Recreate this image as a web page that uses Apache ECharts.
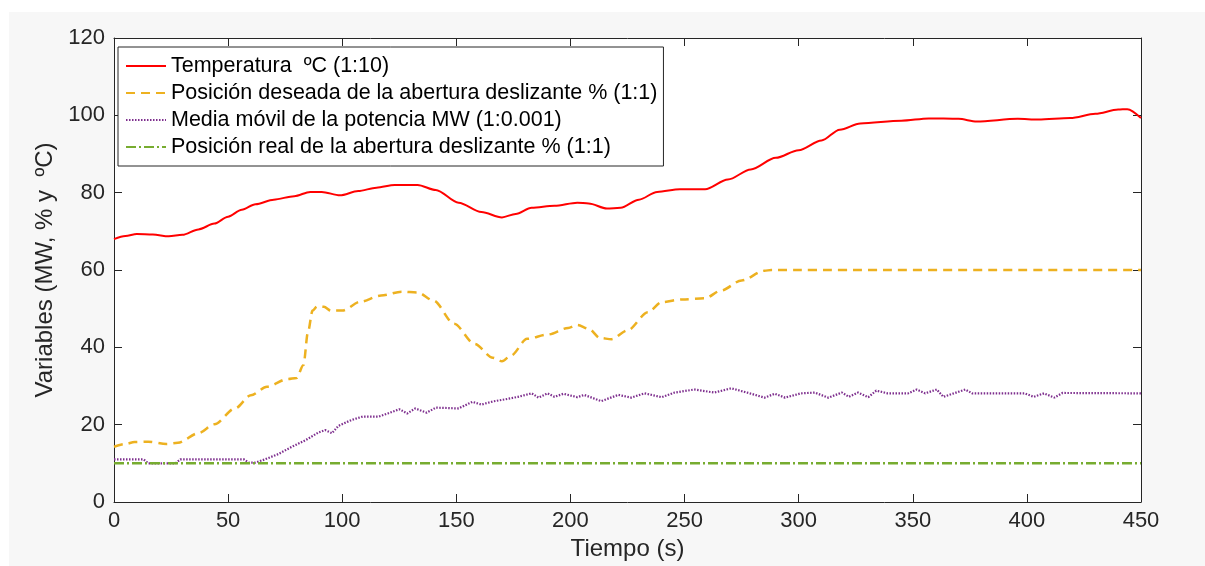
<!DOCTYPE html>
<html>
<head>
<meta charset="utf-8">
<script src="https://cdn.jsdelivr.net/npm/echarts@6/dist/echarts.min.js"></script>
<style>
  body { margin: 0; background: #ffffff; }
  #frame { position: absolute; left: 9px; top: 12px; width: 1196px; height: 554px; background: #f7f7f7; }
  #chart { position: absolute; left: 0; top: 0; width: 1205px; height: 566px; }
</style>
</head>
<body>
<div id="frame"></div>
<div id="chart"></div>
<script>
// Temperatura ºC (1:10)
const tiempoTemp = [0, 5, 10, 17, 24, 30, 37, 44, 50, 56, 62, 70, 79, 86, 91, 99, 107, 115, 123, 133,
  141, 151, 161, 170, 176, 183, 193, 203, 208, 216, 222, 230, 238, 248, 259, 269, 279, 290, 300, 310,
  318, 327, 345, 357, 370, 378, 396, 405, 419, 430, 440, 444, 450]
const temperatura = [68.0, 68.8, 69.3, 69.2, 68.7, 69.1, 70.5, 72.0, 73.8, 75.6, 77.0, 78.2, 79.1, 80.2, 80.2, 79.3, 80.4, 81.3, 82.0, 82.0,
  80.7, 77.4, 75.0, 73.6, 74.5, 76.1, 76.6, 77.4, 77.2, 75.9, 76.1, 78.2, 80.2, 80.9, 80.9, 83.4, 86.0, 89.0, 91.0, 93.5,
  96.3, 97.9, 98.6, 99.2, 99.1, 98.4, 99.1, 98.9, 99.3, 100.4, 101.5, 101.6, 99.3]

// Posición deseada de la abertura deslizante % (1:1)
const tiempoDeseada = [0, 5, 9, 15, 23, 28, 37, 44, 53, 60, 67, 76, 80, 83, 85, 87, 89, 92, 95, 100,
  108, 117, 126, 133, 140, 149, 158, 166, 170, 174, 181, 190, 199, 203, 208, 213, 218, 225, 234, 240,
  249, 259, 266, 275, 285, 288, 450]
const posDeseada = [14.3, 15.0, 15.5, 15.6, 15.0, 15.3, 17.8, 20.1, 24.2, 27.6, 29.8, 31.8, 32.1, 35.4, 44.0, 49.5, 50.6, 50.5, 49.5, 49.5,
  51.8, 53.4, 54.4, 54.2, 52.1, 46.1, 40.9, 37.3, 36.4, 37.9, 42.2, 43.3, 45.0, 45.8, 44.8, 42.4, 42.1, 44.4, 49.1, 51.7,
  52.4, 52.7, 54.7, 57.3, 59.8, 60.0, 60.0]

// Media móvil de la potencia MW (1:0.001)
const tiempoPotencia = [0, 13, 15, 27, 29, 57, 59, 62, 66, 72, 78, 84, 89.6, 92.5, 95.5, 98.4, 104, 109, 116, 120,
  125, 128.5, 132, 137, 141, 151, 157, 161, 166, 171, 177, 183, 186, 190, 193, 197, 203, 206, 213.5, 221,
  226.6, 232.5, 240, 245.6, 254.4, 263, 270.5, 278, 285, 289.6, 294, 301, 307, 313, 319, 322, 326, 330.5, 334, 339,
  348, 351.7, 355.4, 360.5, 363.4, 368, 373, 376, 399, 403, 407.5, 412, 415.6, 450]
const potencia = [11.0, 11.0, 10.0, 10.0, 11.0, 11.0, 10.2, 10.2, 11.0, 12.4, 14.3, 16.0, 18.0, 18.6, 17.8, 19.7, 21.2, 22.1, 22.1, 22.9,
  24.0, 22.9, 24.2, 23.1, 24.4, 24.2, 25.9, 25.2, 26.0, 26.5, 27.2, 28.1, 27.0, 28.1, 27.2, 28.0, 27.1, 27.7, 26.1, 27.7,
  27.0, 28.1, 27.1, 28.3, 29.1, 28.3, 29.4, 28.2, 27.0, 28.0, 27.0, 28.1, 28.3, 27.0, 28.3, 27.2, 28.3, 27.1, 28.8, 28.1,
  28.1, 29.1, 28.1, 29.1, 27.2, 28.1, 29.1, 28.1, 28.1, 27.2, 28.1, 27.0, 28.2, 28.1]

// Posición real de la abertura deslizante % (1:1)
const tiempoReal = [0, 450]
const posReal = [10, 10]

const nombres = [
  'Temperatura  ºC (1:10)',
  'Posición deseada de la abertura deslizante % (1:1)',
  'Media móvil de la potencia MW (1:0.001)',
  'Posición real de la abertura deslizante % (1:1)'
]

const zip = (t, v) => t.map((x, i) => [x, v[i]])

const chart = echarts.init(document.getElementById('chart'))

const ejeColor = '#262626'
const fuente = '"Liberation Sans", Arial, sans-serif'

const option = {
  backgroundColor: 'transparent',
  animation: false,
  textStyle: { fontFamily: fuente },
  grid: {
    left: 114, right: 64, top: 38, bottom: 62,
    show: true, backgroundColor: '#ffffff', borderWidth: 0
  },
  legend: {
    orient: 'vertical',
    left: 118,
    top: 47,
    padding: [8, 6, 8, 7],
    itemWidth: 40,
    itemHeight: 14,
    itemGap: 5,
    backgroundColor: '#ffffff',
    borderColor: ejeColor,
    borderWidth: 1,
    borderRadius: 0,
    // solo la línea en el icono, sin el círculo
    itemStyle: { color: 'transparent', borderWidth: 0, opacity: 0 },
    textStyle: { fontSize: 21.5, color: '#000000', lineHeight: 21, fontFamily: fuente },
    data: nombres
  },
  xAxis: [{
    type: 'value',
    min: 0, max: 450, interval: 50,
    name: 'Tiempo (s)',
    nameLocation: 'middle',
    nameGap: 35,
    nameTextStyle: { fontSize: 24, color: ejeColor },
    axisLine: { onZero: false, lineStyle: { color: ejeColor, width: 1 } },
    axisTick: { inside: true, length: 8, lineStyle: { color: ejeColor } },
    axisLabel: { fontSize: 22, color: ejeColor, margin: 8 },
    splitLine: { show: false }
  }, {
    type: 'value',
    position: 'top',
    min: 0, max: 450, interval: 50,
    axisLine: { onZero: false, lineStyle: { color: ejeColor, width: 1 } },
    axisTick: { inside: true, length: 8, lineStyle: { color: ejeColor } },
    axisLabel: { show: false },
    splitLine: { show: false }
  }],
  yAxis: [{
    type: 'value',
    min: 0, max: 120, interval: 20,
    name: 'Variables (MW, % y  ºC)',
    nameLocation: 'middle',
    nameGap: 55,
    nameTextStyle: { fontSize: 24, color: ejeColor },
    axisLine: { show: true, onZero: false, lineStyle: { color: ejeColor, width: 1 } },
    axisTick: { show: true, inside: true, length: 8, lineStyle: { color: ejeColor } },
    axisLabel: { fontSize: 22, color: ejeColor, margin: 9 },
    splitLine: { show: false }
  }, {
    type: 'value',
    position: 'right',
    min: 0, max: 120, interval: 20,
    axisLine: { show: true, onZero: false, lineStyle: { color: ejeColor, width: 1 } },
    axisTick: { show: true, inside: true, length: 8, lineStyle: { color: ejeColor } },
    axisLabel: { show: false },
    splitLine: { show: false }
  }],
  series: [{
    name: nombres[0],
    type: 'line',
    data: zip(tiempoTemp, temperatura),
    symbol: 'none',
    smooth: 0.3,
    smoothMonotone: 'x',
    color: '#ff0000',
    lineStyle: { color: '#ff0000', width: 2 }
  }, {
    name: nombres[1],
    type: 'line',
    data: zip(tiempoDeseada, posDeseada),
    symbol: 'none',
    smooth: 0.3,
    smoothMonotone: 'x',
    color: '#edb120',
    lineStyle: { color: '#edb120', width: 2.5, type: [9, 6] }
  }, {
    name: nombres[2],
    type: 'line',
    data: zip(tiempoPotencia, potencia),
    symbol: 'none',
    color: '#7e2f8e',
    lineStyle: { color: '#7e2f8e', width: 2.2, type: [1.5, 1.5] }
  }, {
    name: nombres[3],
    type: 'line',
    data: zip(tiempoReal, posReal),
    symbol: 'none',
    color: '#77ac30',
    lineStyle: { color: '#77ac30', width: 2.5, type: [10, 3, 2, 3] }
  }]
}

chart.setOption(option)
</script>
</body>
</html>
